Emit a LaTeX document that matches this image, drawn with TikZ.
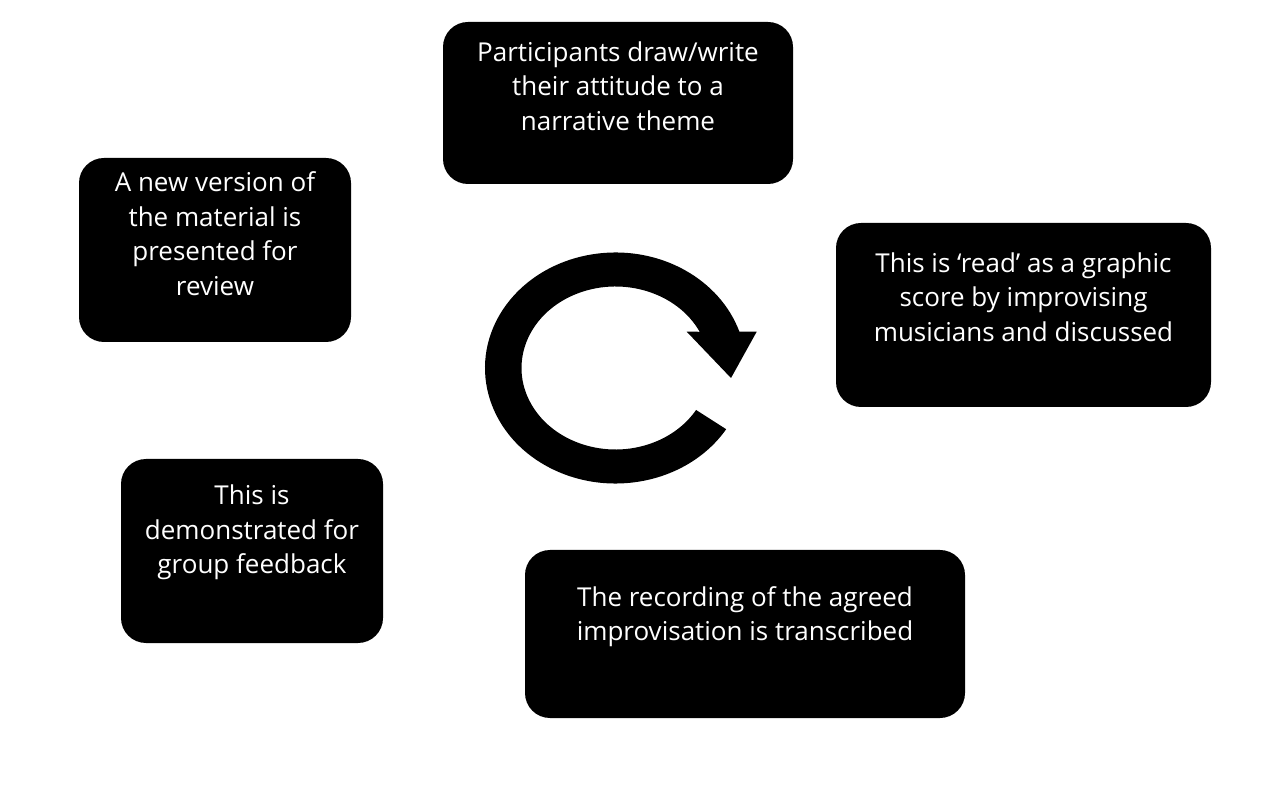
\documentclass[tikz,border=0pt]{standalone}
\usepackage{fontspec}
\setmainfont{Open Sans}
\usetikzlibrary{calc}
\begin{document}
\begin{tikzpicture}[x=1pt,y=1pt,
  stepbox/.style={fill=black,draw=none,rounded corners=25pt},
  steptext/.style={text=white,align=center,inner sep=0pt,font=\fontsize{26}{34.5}\selectfont}]
\useasboundingbox (0,0) rectangle (1269,793);
% boxes (y up: y = 793 - image y)
\fill[stepbox] (443,771) rectangle (793,609);
\node[steptext] (t1) at (618,707) {Participants draw/write\\their attitude to a\\narrative theme};
\fill[stepbox] (79,635) rectangle (351,451);
\node[steptext] (t2) at (215,559.5) {A new version of\\the material is\\presented for\\review};
\fill[stepbox] (836,570) rectangle (1211,386);
\node[steptext] (t3) at (1023.5,496) {This is ‘read’ as a graphic\\score by improvising\\musicians and discussed};
\fill[stepbox] (121,334) rectangle (383,150);
\node[steptext] (t4) at (252,260.5) {This is\\demonstrated for\\group feedback};
\fill[stepbox] (525,243) rectangle (965,75);
\node[steptext] (t5) at (745,176.5) {The recording of the agreed\\improvisation is transcribed};
% circular arrow
\coordinate (c) at (615.5,425);
\fill[black] ($(c)+(-32:130.5 and 115.5)$)
  arc[start angle=-32,end angle=-341.7,x radius=130.5,y radius=115.5]
  -- (756.7,461.3) -- (731,415) -- (686.7,461.3)
  -- ($(c)+(-333.6:94 and 81.5)$)
  arc[start angle=-333.6,end angle=-31,x radius=94,y radius=81.5] -- cycle;
\end{tikzpicture}
\end{document}
